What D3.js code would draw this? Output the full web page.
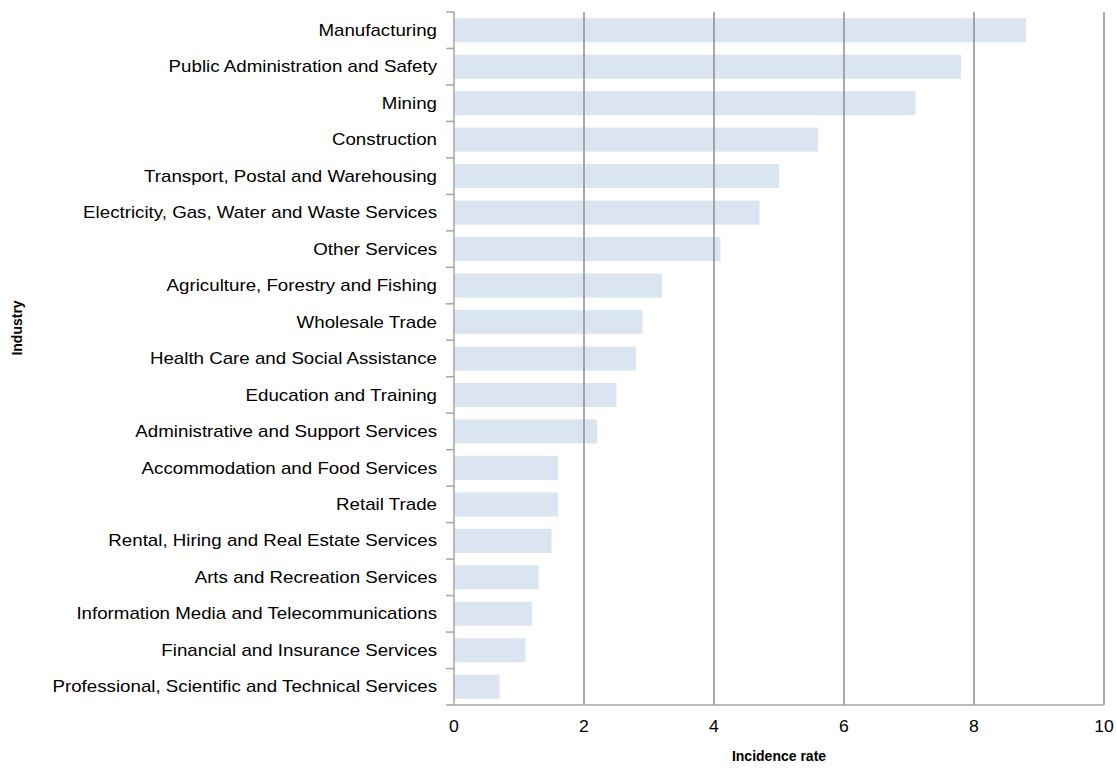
<!DOCTYPE html>
<html>
<head>
<meta charset="utf-8">
<script src="https://cdn.jsdelivr.net/npm/d3@7"></script>
<style>
  body { margin: 0; background: #fff; }
  svg { font-family: "Liberation Sans", Arial, sans-serif; }
</style>
</head>
<body>
<svg width="1117" height="770"></svg>
<script>
var industries = [
  "Manufacturing",
  "Public Administration and Safety",
  "Mining",
  "Construction",
  "Transport, Postal and Warehousing",
  "Electricity, Gas, Water and Waste Services",
  "Other Services",
  "Agriculture, Forestry and Fishing",
  "Wholesale Trade",
  "Health Care and Social Assistance",
  "Education and Training",
  "Administrative and Support Services",
  "Accommodation and Food Services",
  "Retail Trade",
  "Rental, Hiring and Real Estate Services",
  "Arts and Recreation Services",
  "Information Media and Telecommunications",
  "Financial and Insurance Services",
  "Professional, Scientific and Technical Services"
];
var rates = [8.8, 7.8, 7.1, 5.6, 5.0, 4.7, 4.1, 3.2, 2.9, 2.8, 2.5, 2.2, 1.6, 1.6, 1.5, 1.3, 1.2, 1.1, 0.7];
var xTicks = [0, 2, 4, 6, 8, 10];

var data = industries.map(function(d, i) { return {name: d, value: rates[i]}; });

var svg = d3.select("svg"),
    margin = {top: 12, left: 454, right: 13, bottom: 65},
    width = +svg.attr("width") - margin.left - margin.right,
    height = +svg.attr("height") - margin.top - margin.bottom;

var g = svg.append("g").attr("transform", "translate(" + margin.left + "," + margin.top + ")");

var x = d3.scaleLinear().domain([0, 10]).range([0, width]);
var y = d3.scaleBand().domain(industries).range([0, height]).paddingInner(0.34).paddingOuter(0.17);

// bars first, gridlines drawn over them
g.selectAll(".bar")
  .data(data)
  .enter().append("rect")
  .attr("class", "bar")
  .attr("x", 0)
  .attr("y", function(d) { return y(d.name); })
  .attr("width", function(d) { return x(d.value); })
  .attr("height", y.bandwidth())
  .attr("fill", "#dbe5f1");

g.selectAll(".grid")
  .data(xTicks.slice(1))
  .enter().append("line")
  .attr("class", "grid")
  .attr("x1", function(d) { return x(d); })
  .attr("x2", function(d) { return x(d); })
  .attr("y1", 0)
  .attr("y2", height)
  .attr("stroke", "#8c8c8c")
  .attr("stroke-width", 1.5);

// y axis with ticks at category boundaries
var step = height / industries.length;
g.append("line")
  .attr("x1", 0).attr("x2", 0).attr("y1", 0).attr("y2", height)
  .attr("stroke", "#a6a6a6").attr("stroke-width", 1.5);
g.selectAll(".ytick")
  .data(d3.range(industries.length + 1))
  .enter().append("line")
  .attr("class", "ytick")
  .attr("x1", -8).attr("x2", 0)
  .attr("y1", function(i) { return i * step; })
  .attr("y2", function(i) { return i * step; })
  .attr("stroke", "#a6a6a6").attr("stroke-width", 1.5);

// the original labels are drawn a bit wide, so stretch them horizontally
g.selectAll(".ylabel")
  .data(industries)
  .enter().append("text")
  .attr("class", "ylabel")
  .attr("transform", function(d) { return "translate(-17," + (y(d) + y.bandwidth() / 2) + ") scale(1.17,1)"; })
  .attr("dy", "0.35em")
  .attr("text-anchor", "end")
  .attr("font-size", 16)
  .attr("fill", "#000")
  .text(function(d) { return d; });

// x axis
g.append("line")
  .attr("x1", 0).attr("x2", width).attr("y1", height).attr("y2", height)
  .attr("stroke", "#a6a6a6").attr("stroke-width", 1.5);

g.selectAll(".xlabel")
  .data(xTicks)
  .enter().append("text")
  .attr("class", "xlabel")
  .attr("transform", function(d) { return "translate(" + x(d) + "," + (height + 27) + ") scale(1.1,1)"; })
  .attr("text-anchor", "middle")
  .attr("font-size", 16)
  .text(function(d) { return d; });

svg.append("text")
  .attr("x", margin.left + width / 2)
  .attr("y", 761)
  .attr("text-anchor", "middle")
  .attr("font-size", 14)
  .attr("font-weight", "bold")
  .text("Incidence rate");

svg.append("text")
  .attr("transform", "translate(22,328) rotate(-90)")
  .attr("text-anchor", "middle")
  .attr("font-size", 14)
  .attr("font-weight", "bold")
  .text("Industry");
</script>
</body>
</html>
